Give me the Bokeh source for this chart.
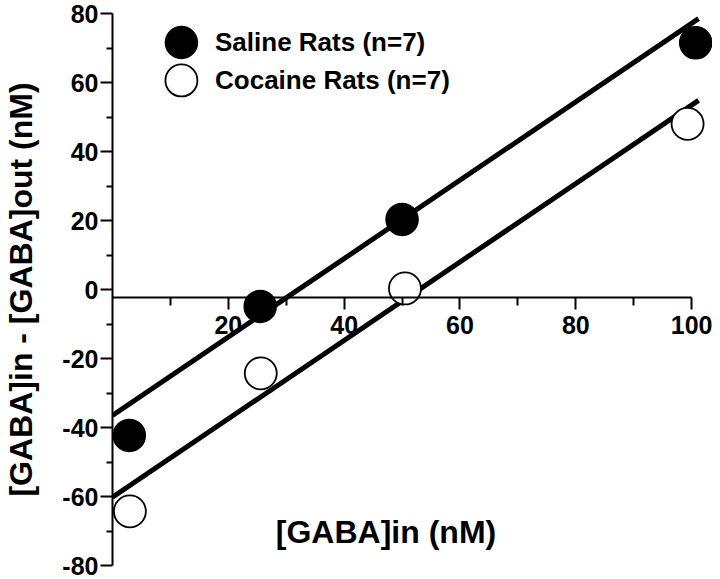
from bokeh.plotting import figure
from bokeh.models import FixedTicker, Range1d, Label
from bokeh.embed import file_html
from bokeh.resources import INLINE

# ---- data ----
saline_x = [2.9, 25.5, 50.0, 100.7]
saline_y = [-42.3, -4.9, 20.3, 71.5]
cocaine_x = [3.0, 25.6, 50.5, 99.3]
cocaine_y = [-64.3, -24.3, 0.3, 48.0]
fit_x = [0.0, 101.2]
saline_fit = [-36.5, 78.5]
cocaine_fit = [-60.2, 54.8]
x_ticks = [20, 40, 60, 80, 100]
x_minor = [10, 30, 50, 70, 90]
y_ticks = [-80, -60, -40, -20, 0, 20, 40, 60, 80]
y_minor = [-70, -50, -30, -10, 10, 30, 50, 70]
series_labels = ["Saline Rats (n=7)", "Cocaine Rats (n=7)"]
x_title = "[GABA]in (nM)"
y_title = "[GABA]in - [GABA]out (nM)"

# ---- layout / style constants ----
FONT = "Liberation Sans"
MARK = 32
x_axis_at = -2.4
legend_x = 11.9
legend_text_x = 17.7
legend_y = [71.6, 60.6]
x_title_pos = (28.2, -70.4)

p = figure(width=712, height=579,
           x_range=Range1d(0, 103.6), y_range=Range1d(-80, 80),
           output_backend="svg", toolbar_location=None,
           min_border_left=109, min_border_right=0,
           min_border_top=13, min_border_bottom=14)
p.grid.visible = False
p.outline_line_color = None
p.background_fill_color = "white"
p.border_fill_color = "white"

# x axis drawn through y ~ 0
xa = p.xaxis[0]
xa.fixed_location = x_axis_at
xa.bounds = (0, 100)
xa.ticker = FixedTicker(ticks=x_ticks, minor_ticks=x_minor)
xa.major_tick_out = 12
xa.major_tick_in = 0
xa.minor_tick_out = 8
xa.minor_tick_in = 0
xa.major_label_standoff = 6

ya = p.yaxis[0]
ya.ticker = FixedTicker(ticks=y_ticks, minor_ticks=y_minor)
ya.major_label_overrides = {t: str(t) for t in y_ticks}
ya.major_tick_out = 12
ya.major_tick_in = 0
ya.minor_tick_out = 6
ya.minor_tick_in = 0
ya.major_label_standoff = 2
ya.axis_label = y_title
ya.axis_label_standoff = 20
ya.axis_label_text_font = FONT
ya.axis_label_text_font_size = "32px"
ya.axis_label_text_font_style = "bold"
ya.axis_label_text_color = "black"

for ax in (xa, ya):
    ax.axis_line_width = 2
    ax.axis_line_color = "black"
    ax.major_tick_line_width = 2
    ax.minor_tick_line_width = 2
    ax.major_tick_line_color = "black"
    ax.minor_tick_line_color = "black"
    ax.major_label_text_font = FONT
    ax.major_label_text_font_size = "25px"
    ax.major_label_text_font_style = "bold"
    ax.major_label_text_color = "black"

# regression lines
p.line(fit_x, saline_fit, line_width=5, color="black")
p.line(fit_x, cocaine_fit, line_width=5, color="black")

# data points
p.scatter(saline_x, saline_y, size=MARK, fill_color="black", line_color="black", line_width=1.5)
p.scatter(cocaine_x, cocaine_y, size=MARK, fill_color="white", line_color="black", line_width=1.8)

# legend
p.scatter([legend_x], [legend_y[0]], size=MARK, fill_color="black", line_color="black", line_width=1.5)
p.scatter([legend_x], [legend_y[1]], size=MARK, fill_color="white", line_color="black", line_width=1.8)
for lbl, ly in zip(series_labels, legend_y):
    p.add_layout(Label(x=legend_text_x, y=ly, text=lbl, text_font=FONT,
                       text_font_size="26px", text_font_style="bold",
                       text_baseline="middle", text_align="left", text_color="black"))

# x axis title
p.add_layout(Label(x=x_title_pos[0], y=x_title_pos[1], text=x_title, text_font=FONT,
                   text_font_size="32px", text_font_style="bold",
                   text_baseline="middle", text_align="left", text_color="black"))

open("out.html", "w").write(file_html(p, INLINE))
